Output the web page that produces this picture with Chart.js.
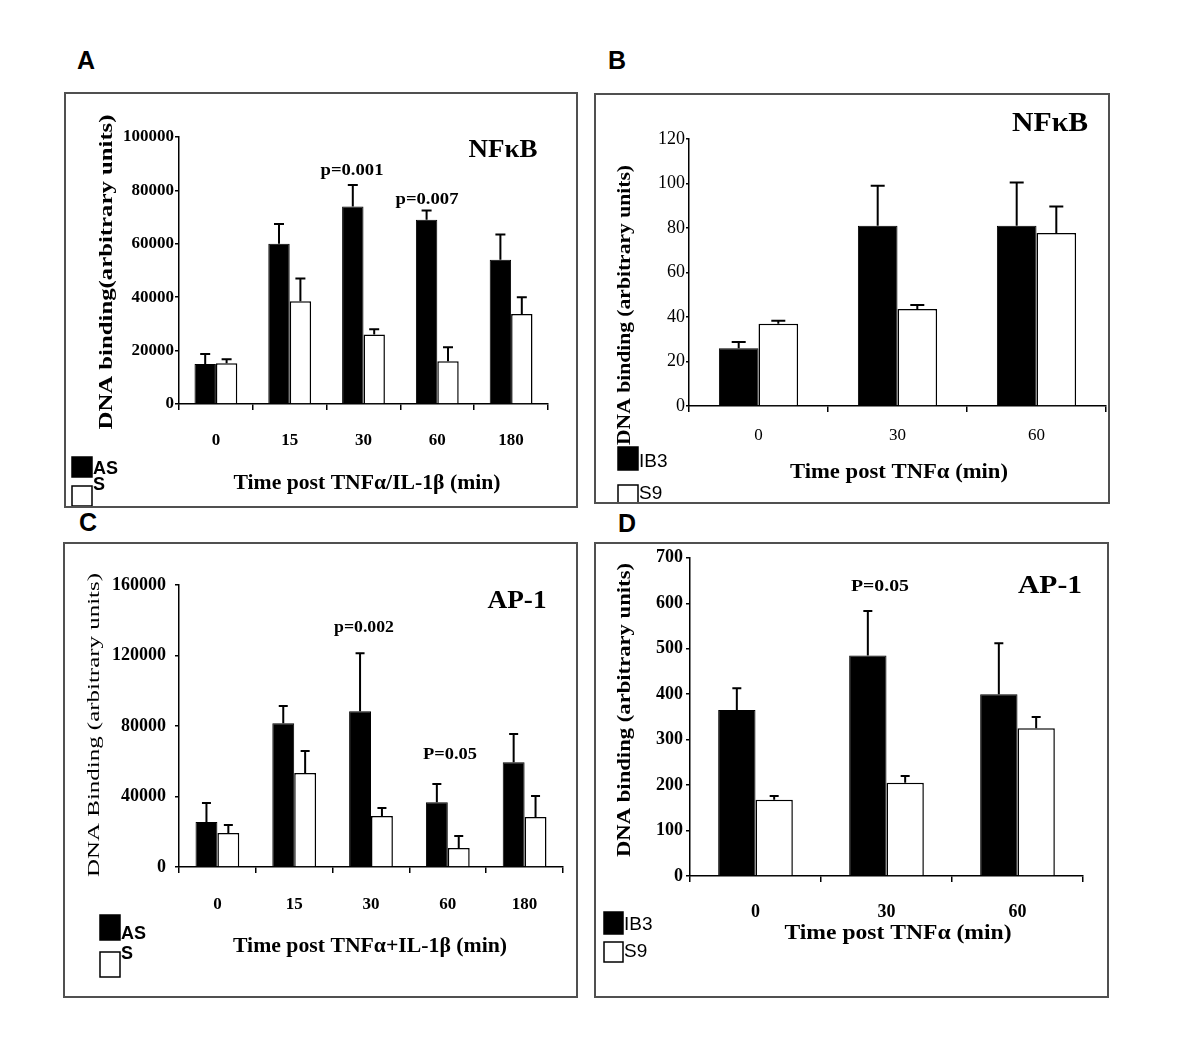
<!DOCTYPE html>
<html>
<head>
<meta charset="utf-8">
<script src="https://cdn.jsdelivr.net/npm/chart.js@4.4.1/dist/chart.umd.min.js"></script>
<style>
  body { margin: 0; background: #fff; width: 1200px; height: 1056px; position: relative; overflow: hidden; }
  .box { position: absolute; border: 2px solid #505050; box-sizing: border-box; }
  .box canvas { display: block; }
  .letter { position: absolute; font: bold 25px "Liberation Sans", Arial, sans-serif; transform: translate(-50%, -50%); }
</style>
</head>
<body>
<div class="letter" style="left:86px;top:60px">A</div>
<div class="letter" style="left:617px;top:60px">B</div>
<div class="letter" style="left:88px;top:522px">C</div>
<div class="letter" style="left:627px;top:523px">D</div>
<script>
// ---- data ----
const timesAC = ['0', '15', '30', '60', '180'];
const timesBD = ['0', '30', '60'];

// A: NFkB, AS vs S
const asA = [15000, 60000, 74000, 69000, 54000];
const asErrA = [3700, 7400, 8000, 3500, 9500];
const sA = [15300, 38500, 26000, 16000, 33700];
const sErrA = [1500, 8500, 2000, 5300, 6300];
const yTicksA = [0, 20000, 40000, 60000, 80000, 100000];

// B: NFkB, IB3 vs S9
const ib3B = [26, 81, 81];
const ib3ErrB = [2.8, 18, 19.5];
const s9B = [37, 43.6, 77.7];
const s9ErrB = [1.3, 1.8, 12];
const yTicksB = [0, 20, 40, 60, 80, 100, 120];

// C: AP-1, AS vs S
const asC = [25500, 81600, 88400, 36800, 59500];
const asErrC = [10800, 9700, 32900, 10300, 15900];
const sC = [19300, 53300, 28900, 10800, 28300];
const sErrC = [4500, 12500, 4600, 6800, 12000];
const yTicksC = [0, 40000, 80000, 120000, 160000];

// D: AP-1, IB3 vs S9
const ib3D = [365, 485, 400];
const ib3ErrD = [48, 98, 112];
const s9D = [168, 205, 325];
const s9ErrD = [8, 15, 25];
const yTicksD = [0, 100, 200, 300, 400, 500, 600, 700];

const SERIF = '"Liberation Serif", "Times New Roman", serif';
const SANS = '"Liberation Sans", Arial, sans-serif';
const BORDER = 2;

// draws error bars, titles, annotations and the small legend
const figText = {
  id: 'figText',
  afterDatasetsDraw(chart, args, opts) {
    const ctx = chart.ctx;
    const y = chart.scales.y;
    ctx.save();
    ctx.strokeStyle = '#000';
    ctx.lineWidth = 2;
    chart.data.datasets.forEach((ds, di) => {
      chart.getDatasetMeta(di).data.forEach((bar, i) => {
        const top = y.getPixelForValue(ds.data[i] + ds.errors[i]);
        ctx.beginPath();
        ctx.moveTo(bar.x, bar.y);
        ctx.lineTo(bar.x, top);
        ctx.moveTo(bar.x - opts.cap / 2, top);
        ctx.lineTo(bar.x + opts.cap / 2, top);
        ctx.stroke();
      });
    });

    // everything below is placed in page coordinates
    ctx.translate(-opts.ox, -opts.oy);
    ctx.fillStyle = '#000';
    ctx.textAlign = 'center';
    ctx.textBaseline = 'middle';
    opts.texts.forEach(t => {
      ctx.save();
      ctx.font = `${t.weight || 'bold'} ${t.size}px ${t.family || SERIF}`;
      ctx.translate(t.x, t.y);
      if (t.rot) ctx.rotate(t.rot);
      if (t.w) ctx.scale(t.w / ctx.measureText(t.t).width, 1);
      ctx.fillText(t.t, 0, 0);
      ctx.restore();
    });

    const lg = opts.legend;
    ctx.lineWidth = 1.5;
    ctx.textAlign = 'left';
    ctx.font = lg.font;
    chart.data.datasets.forEach((ds, i) => {
      const r = lg.rects[i];
      ctx.fillStyle = ds.backgroundColor;
      ctx.fillRect(lg.x, r[0], lg.w, r[1]);
      ctx.strokeRect(lg.x, r[0], lg.w, r[1]);
      ctx.fillStyle = '#000';
      ctx.fillText(ds.label, lg.x + lg.w + 1, lg.labelY[i]);
    });
    ctx.restore();
  }
};

function makePanel(p) {
  const box = document.createElement('div');
  box.className = 'box';
  box.style.left = p.box[0] + 'px';
  box.style.top = p.box[1] + 'px';
  box.style.width = (p.box[2] - p.box[0]) + 'px';
  box.style.height = (p.box[3] - p.box[1]) + 'px';
  const canvas = document.createElement('canvas');
  box.appendChild(canvas);
  document.body.appendChild(box);

  const ox = p.box[0] + BORDER, oy = p.box[1] + BORDER;
  const innerR = p.box[2] - BORDER, innerB = p.box[3] - BORDER;
  const [pl, pt, pr, pb] = p.plot;
  const yW = pl - ox - 4;
  const xH = 60;

  new Chart(canvas, {
    type: 'bar',
    data: {
      labels: p.labels,
      datasets: p.series.map(s => ({
        label: s.name,
        data: s.values,
        errors: s.errors,
        backgroundColor: s.fill,
        borderColor: '#000',
        borderWidth: s.bw,
        borderSkipped: 'bottom',
        categoryPercentage: p.catPct,
        barPercentage: 1
      }))
    },
    options: {
      animation: false,
      responsive: true,
      maintainAspectRatio: false,
      layout: { padding: { left: 4, top: pt - oy, right: innerR - pr, bottom: innerB - pb - xH } },
      plugins: {
        legend: { display: false },
        tooltip: { enabled: false },
        figText: { ox, oy, cap: p.cap, texts: p.texts, legend: p.legend }
      },
      scales: {
        x: {
          grid: { display: true, drawOnChartArea: false, drawTicks: true, tickLength: 6, color: '#000', lineWidth: 1.5, offset: true },
          border: { display: true, color: '#000', width: 1.5 },
          ticks: { color: '#000', font: p.xFont, padding: p.xPad, maxRotation: 0, autoSkip: false },
          afterFit: s => { s.height = xH; }
        },
        y: {
          min: 0,
          max: p.yTicks[p.yTicks.length - 1],
          afterBuildTicks: s => { s.ticks = p.yTicks.map(v => ({ value: v })); },
          grid: { display: true, drawOnChartArea: false, drawTicks: true, tickLength: p.yTickLen, color: '#000', lineWidth: 1.5 },
          border: { display: true, color: '#000', width: 1.5 },
          ticks: { color: '#000', font: p.yFont, padding: p.yPad, callback: v => String(v) },
          afterFit: s => { s.width = yW; }
        }
      }
    },
    plugins: [figText]
  });
}

const ROT = -Math.PI / 2;

makePanel({
  box: [64, 92, 578, 508], plot: [179, 137, 548, 404], catPct: 0.58, cap: 10,
  labels: timesAC, yTicks: yTicksA,
  series: [
    { name: 'AS', values: asA, errors: asErrA, fill: '#000', bw: 1 },
    { name: 'S', values: sA, errors: sErrA, fill: '#fff', bw: 1.5 }
  ],
  xFont: { family: SERIF, size: 17, weight: 'bold' }, xPad: 20,
  yFont: { family: SERIF, size: 17, weight: 'bold' }, yPad: 1, yTickLen: 4,
  texts: [
    { t: 'DNA binding(arbitrary units)', x: 107, y: 272, size: 18, w: 315, rot: ROT },
    { t: 'Time post TNF\u03b1/IL-1\u03b2 (min)', x: 367, y: 484, size: 20, w: 267 },
    { t: 'NF\u03baB', x: 503, y: 150, size: 26, w: 69 },
    { t: 'p=0.001', x: 352, y: 171, size: 17, w: 63 },
    { t: 'p=0.007', x: 427, y: 200, size: 17, w: 63 }
  ],
  legend: { x: 72, w: 20, rects: [[457, 20], [486, 20]], labelY: [469, 485], font: `bold 18px ${SANS}` }
});

makePanel({
  box: [594, 93, 1110, 504], plot: [689, 139, 1106, 406], catPct: 0.57, cap: 14,
  labels: timesBD, yTicks: yTicksB,
  series: [
    { name: 'IB3', values: ib3B, errors: ib3ErrB, fill: '#000', bw: 1 },
    { name: 'S9', values: s9B, errors: s9ErrB, fill: '#fff', bw: 1.5 }
  ],
  xFont: { family: SERIF, size: 17, weight: 'normal' }, xPad: 13,
  yFont: { family: SERIF, size: 18, weight: 'normal' }, yPad: 1, yTickLen: 3,
  texts: [
    { t: 'DNA binding (arbitrary units)', x: 625, y: 305, size: 19, w: 280, rot: ROT },
    { t: 'Time post TNF\u03b1 (min)', x: 899, y: 473, size: 21, w: 218 },
    { t: 'NF\u03baB', x: 1050, y: 124, size: 27, w: 76 }
  ],
  legend: { x: 618, w: 20, rects: [[447, 23], [485, 22]], labelY: [462, 494], font: `19px ${SANS}` }
});

makePanel({
  box: [63, 542, 578, 998], plot: [179, 585, 563, 867], catPct: 0.57, cap: 9,
  labels: timesAC, yTicks: yTicksC,
  series: [
    { name: 'AS', values: asC, errors: asErrC, fill: '#000', bw: 1 },
    { name: 'S', values: sC, errors: sErrC, fill: '#fff', bw: 1.5 }
  ],
  xFont: { family: SERIF, size: 17, weight: 'bold' }, xPad: 21,
  yFont: { family: SERIF, size: 18, weight: 'bold' }, yPad: 9, yTickLen: 4,
  texts: [
    { t: 'DNA Binding (arbitrary units)', x: 95, y: 725, size: 17, w: 304, rot: ROT, weight: 'normal' },
    { t: 'Time post TNF\u03b1+IL-1\u03b2 (min)', x: 370, y: 947, size: 20, w: 274 },
    { t: 'AP-1', x: 517, y: 601, size: 26, w: 59 },
    { t: 'p=0.002', x: 364, y: 628, size: 17, w: 60 },
    { t: 'P=0.05', x: 450, y: 755, size: 17, w: 54 }
  ],
  legend: { x: 100, w: 20, rects: [[915, 25], [952, 25]], labelY: [934, 954], font: `bold 18px ${SANS}` }
});

makePanel({
  box: [594, 542, 1109, 998], plot: [690, 557, 1083, 876], catPct: 0.57, cap: 9,
  labels: timesBD, yTicks: yTicksD,
  series: [
    { name: 'IB3', values: ib3D, errors: ib3ErrD, fill: '#000', bw: 1 },
    { name: 'S9', values: s9D, errors: s9ErrD, fill: '#fff', bw: 1.5 }
  ],
  xFont: { family: SERIF, size: 18, weight: 'bold' }, xPad: 20,
  yFont: { family: SERIF, size: 18, weight: 'bold' }, yPad: 3, yTickLen: 4,
  texts: [
    { t: 'DNA binding (arbitrary units)', x: 625, y: 710, size: 18, w: 294, rot: ROT },
    { t: 'Time post TNF\u03b1 (min)', x: 898, y: 934, size: 20, w: 227 },
    { t: 'AP-1', x: 1050, y: 586, size: 26, w: 64 },
    { t: 'P=0.05', x: 880, y: 587, size: 17, w: 58 }
  ],
  legend: { x: 604, w: 19, rects: [[912, 22], [942, 20]], labelY: [925, 952], font: `19px ${SANS}` }
});
</script>
</body>
</html>
